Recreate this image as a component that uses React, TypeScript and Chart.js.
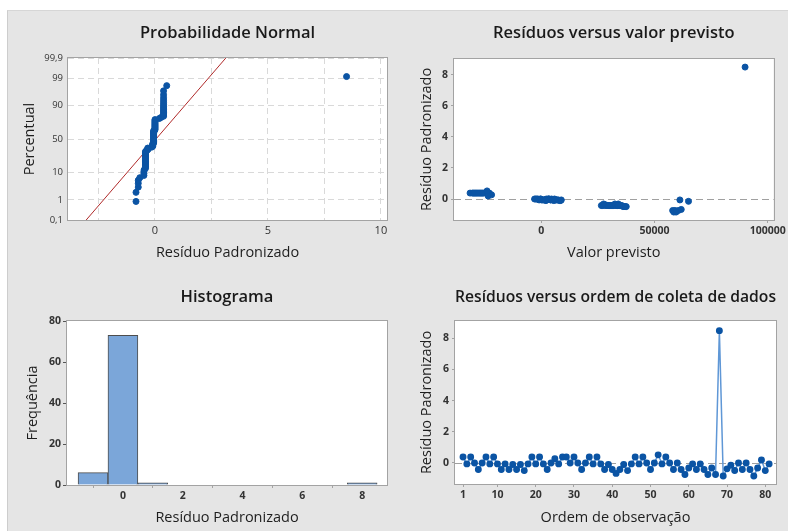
import React, { useEffect, useRef } from "react";
import { Chart, registerables } from "chart.js";
Chart.register(...registerables);

// ---------------- data ----------------
const RESIDUALS = [
  0.38, -0.06, 0.38, 0.0, -0.42, 0.0, 0.38, -0.06, 0.38, -0.06,
  -0.42, -0.06, -0.42, -0.1, -0.42, -0.1, -0.49, -0.06, 0.38, -0.06,
  0.38, -0.06, -0.42, 0.0, 0.27, -0.06, 0.38, 0.38, 0.0, 0.38,
  0.0, -0.42, 0.0, 0.38, -0.06, 0.38, -0.06, -0.42, -0.1, -0.42,
  -0.67, -0.42, -0.1, -0.49, -0.06, 0.38, -0.06, 0.38, 0.0, -0.42,
  0.0, 0.52, -0.06, 0.38, 0.0, -0.42, 0.0, -0.42, -0.74, -0.32,
  -0.06, -0.42, -0.06, -0.42, -0.74, -0.32, -0.74, 8.48, -0.84, -0.38,
  -0.15, -0.48, 0.0, -0.42, 0.0, -0.42, -0.84, -0.32, 0.19, -0.49,
  -0.06,
];
const FITTED = [
  -29000, 1000, -27500, -2500, 28000, 3000, -30500, 5000, -26000, -1000,
  31000, 7000, 33500, 8500, 27000, 2000, 36500, 4000, -24500, 0,
  -23000, 6000, 30000, -3000, -22000, 1500, -28500, -31500, 4500, -25500,
  -1500, 34500, 3500, -27000, 7500, -30000, 500, 29000, 5500, 32000,
  61800, 35500, 8000, 37500, 2500, -29500, 6500, -26500, -500, 26500,
  3200, -24000, 4200, -28000, -2000, 31500, 2200, 33000, 58000, 34000,
  61200, 30500, 8800, 35000, 59000, 32500, 60500, 90000, 58500, 28500,
  65000, 36000, 5800, 29500, -200, 33800, 59500, 27500, -23500, 37000,
  1800,
];
const HIST_BINS = [-1, 0, 1, 2, 3, 4, 5, 6, 7, 8];
const HIST_COUNTS = [6, 73, 1, 0, 0, 0, 0, 0, 0, 1];
const PROB_TICKS = [0.1, 1, 10, 50, 90, 99, 99.9];
const PROB_TICK_LABELS = ["0,1", "1", "10", "50", "90", "99", "99,9"];
const PROB_X_GRID = [-2.5, 0, 2.5, 5, 7.5, 10];
const PROB_X_LABELS = ["", "0", "", "5", "", "10"];
const FIT_LINE_MEAN = 0.045;
const FIT_LINE_SD = 1.0;
const RES_Y_TICKS = [0, 2, 4, 6, 8];
const FIT_X_TICKS = [0, 50000, 100000];
const HIST_X_TICKS = [0, 2, 4, 6, 8];
const HIST_Y_TICKS = [0, 20, 40, 60, 80];
const ORDER_X_TICKS = [1, 10, 20, 30, 40, 50, 60, 70, 80];

// ---------------- helpers ----------------
function invNorm(p: number): number {
  const a = [-3.969683028665376e1, 2.209460984245205e2, -2.759285104469687e2, 1.38357751867269e2, -3.066479806614716e1, 2.506628277459239];
  const b = [-5.447609879822406e1, 1.615858368580409e2, -1.556989798598866e2, 6.680131188771972e1, -1.328068155288572e1];
  const c = [-7.784894002430293e-3, -3.223964580411365e-1, -2.400758277161838, -2.549732539343734, 4.374664141464968, 2.938163982698783];
  const d = [7.784695709041462e-3, 3.224671290700398e-1, 2.445134137142996, 3.754408661907416];
  const pl = 0.02425;
  if (p < pl) {
    const q = Math.sqrt(-2 * Math.log(p));
    return (((((c[0] * q + c[1]) * q + c[2]) * q + c[3]) * q + c[4]) * q + c[5]) / ((((d[0] * q + d[1]) * q + d[2]) * q + d[3]) * q + 1);
  }
  if (p > 1 - pl) {
    const q = Math.sqrt(-2 * Math.log(1 - p));
    return -(((((c[0] * q + c[1]) * q + c[2]) * q + c[3]) * q + c[4]) * q + c[5]) / ((((d[0] * q + d[1]) * q + d[2]) * q + d[3]) * q + 1);
  }
  const q = p - 0.5;
  const r = q * q;
  return ((((((a[0] * r + a[1]) * r + a[2]) * r + a[3]) * r + a[4]) * r + a[5]) * q) / (((((b[0] * r + b[1]) * r + b[2]) * r + b[3]) * r + b[4]) * r + 1);
}

const FONT = "'Open Sans', 'Noto Sans', sans-serif";
const TEXT = "#1e1e1e";
const TICK = "#333";
const BLUE = "#0b54a4";

const framePlugin = {
  id: "frame",
  beforeDraw(chart: any) {
    const { ctx, chartArea } = chart;
    const { left, top, right, bottom } = chartArea;
    ctx.save();
    ctx.fillStyle = "#ffffff";
    ctx.fillRect(left, top, right - left, bottom - top);
    ctx.restore();
  },
  afterDraw(chart: any) {
    const { ctx, chartArea } = chart;
    const { left, top, right, bottom } = chartArea;
    ctx.save();
    ctx.strokeStyle = "#a3a3a3";
    ctx.lineWidth = 1;
    ctx.strokeRect(Math.round(left) - 0.5, Math.round(top) - 0.5, Math.round(right - left) + 1, Math.round(bottom - top) + 1);
    ctx.restore();
  },
};

const zeroLinePlugin = {
  id: "zeroLine",
  beforeDatasetsDraw(chart: any) {
    const { ctx, chartArea } = chart;
    const y = Math.round(chart.scales.y.getPixelForValue(0)) + 0.5;
    ctx.save();
    ctx.strokeStyle = "#a0a0a0";
    ctx.lineWidth = 1;
    ctx.setLineDash([7, 4]);
    ctx.beginPath();
    ctx.moveTo(chartArea.left, y);
    ctx.lineTo(chartArea.right, y);
    ctx.stroke();
    ctx.restore();
  },
};

function titleOpt(text: string, top: number, bottom: number, align: any = "center") {
  return {
    display: true,
    text,
    fullSize: false,
    align,
    color: "#1a1a1a",
    font: { family: FONT, size: 16.5, weight: "600" as any, lineHeight: 1.2 },
    padding: { top, bottom },
  };
}

function axisTitle(text: string, top: number, bottom: number) {
  return {
    display: true,
    text,
    color: TEXT,
    font: { family: FONT, size: 14.5, weight: "500" as any, lineHeight: 1.2 },
    padding: { top, bottom },
  };
}

function setTicks(values: number[]) {
  return (s: any) => {
    s.ticks = values.map((v) => ({ value: v }));
  };
}

const boldTick = { family: FONT, size: 10.5, weight: "bold" as any };

// ---------------- component ----------------
export default function App() {
  const c1 = useRef<HTMLCanvasElement>(null);
  const c2 = useRef<HTMLCanvasElement>(null);
  const c3 = useRef<HTMLCanvasElement>(null);
  const c4 = useRef<HTMLCanvasElement>(null);

  useEffect(() => {
    const charts: Chart[] = [];
    const n = RESIDUALS.length;
    const sorted = [...RESIDUALS].sort((a, b) => a - b);
    const probPoints = sorted.map((v, i) => ({ x: v, y: invNorm((i + 1 - 0.3) / (n + 0.4)) }));
    const zLo = invNorm(PROB_TICKS[0] / 100);
    const zHi = invNorm(PROB_TICKS[PROB_TICKS.length - 1] / 100);
    const fitLine = [
      { x: FIT_LINE_MEAN + FIT_LINE_SD * zLo, y: zLo },
      { x: FIT_LINE_MEAN + FIT_LINE_SD * zHi, y: zHi },
    ];
    const probTickZ = PROB_TICKS.map((p) => invNorm(p / 100));

    // Panel 1: normal probability
    charts.push(
      new Chart(c1.current as HTMLCanvasElement, {
        type: "scatter",
        data: {
          datasets: [
            { data: probPoints, backgroundColor: BLUE, borderColor: BLUE, pointRadius: 3, pointHoverRadius: 3 },
            { data: fitLine, showLine: true, borderColor: "#b02a2a", borderWidth: 1, pointRadius: 0, backgroundColor: "#b02a2a" },
          ],
        },
        options: {
          responsive: false,
          animation: false,
          events: [],
          layout: { padding: { left: 0, right: 11, top: 0, bottom: 0 } },
          plugins: {
            legend: { display: false },
            tooltip: { enabled: false },
            title: titleOpt("Probabilidade Normal", 13.1, 15.1),
          },
          scales: {
            x: {
              type: "linear",
              min: -3.85,
              max: 10.27,
              afterBuildTicks: setTicks(PROB_X_GRID),
              afterFit: (s: any) => { s.height = 50; },
              ticks: {
                autoSkip: false,
                maxRotation: 0,
                padding: 4,
                color: TICK,
                font: { family: FONT, size: 11 },
                callback: (_v: any, i: number) => PROB_X_LABELS[i],
              },
              grid: { color: "#d9d9d9", drawTicks: false },
              border: { display: false, dash: [6, 4] },
              title: axisTitle("Resíduo Padronizado", 0, 8.3),
            },
            y: {
              type: "linear",
              min: zLo,
              max: zHi,
              afterBuildTicks: setTicks(probTickZ),
              afterFit: (s: any) => { s.width = 60; },
              ticks: {
                autoSkip: false,
                padding: 5,
                color: TICK,
                font: { family: FONT, size: 9.5 },
                callback: (_v: any, i: number) => PROB_TICK_LABELS[i],
              },
              grid: { color: "#d9d9d9", drawTicks: false },
              border: { display: false, dash: [6, 4] },
              title: axisTitle("Percentual", 13.3, 0),
            },
          },
        },
        plugins: [framePlugin],
      } as any)
    );

    // Panel 2: residuals vs fitted
    const fitPoints = FITTED.map((f, i) => ({ x: f, y: RESIDUALS[i] }));
    charts.push(
      new Chart(c2.current as HTMLCanvasElement, {
        type: "scatter",
        data: {
          datasets: [{ data: fitPoints, backgroundColor: BLUE, borderColor: BLUE, pointRadius: 3, pointHoverRadius: 3 }],
        },
        options: {
          responsive: false,
          animation: false,
          events: [],
          layout: { padding: { left: 0, right: 12, top: 0, bottom: 0 } },
          plugins: {
            legend: { display: false },
            tooltip: { enabled: false },
            title: titleOpt("Resíduos versus valor previsto", 13.1, 16.1),
          },
          scales: {
            x: {
              type: "linear",
              min: -38600,
              max: 102600,
              afterBuildTicks: setTicks(FIT_X_TICKS),
              afterFit: (s: any) => { s.height = 50; },
              ticks: { autoSkip: false, maxRotation: 0, padding: 2, color: TICK, font: boldTick, callback: (v: any) => String(v) },
              grid: { drawOnChartArea: false, tickLength: 3, color: "#a3a3a3" },
              border: { display: false },
              title: axisTitle("Valor previsto", 0, 8.3),
            },
            y: {
              type: "linear",
              min: -1.35,
              max: 9.0,
              afterBuildTicks: setTicks(RES_Y_TICKS),
              afterFit: (s: any) => { s.width = 56; },
              ticks: { autoSkip: false, padding: 3, color: TICK, font: boldTick, callback: (v: any) => String(v) },
              grid: { drawOnChartArea: false, tickLength: 3, color: "#a3a3a3" },
              border: { display: false },
              title: axisTitle("Resíduo Padronizado", 20.3, 0),
            },
          },
        },
        plugins: [framePlugin, zeroLinePlugin],
      } as any)
    );

    // Panel 3: histogram
    charts.push(
      new Chart(c3.current as HTMLCanvasElement, {
        type: "bar",
        data: {
          datasets: [
            {
              data: HIST_BINS.map((b, i) => ({ x: b, y: HIST_COUNTS[i] })),
              backgroundColor: "#7ba6d9",
              borderColor: "#4d4d4d",
              borderWidth: 1,
              barPercentage: 1,
              categoryPercentage: 1,
              grouped: false,
            },
          ],
        },
        options: {
          responsive: false,
          animation: false,
          events: [],
          layout: { padding: { left: 0, right: 11, top: 0, bottom: 0 } },
          plugins: {
            legend: { display: false },
            tooltip: { enabled: false },
            title: titleOpt("Histograma", 17.1, 14.1),
          },
          scales: {
            x: {
              type: "linear",
              offset: false,
              min: -1.87,
              max: 8.83,
              afterBuildTicks: setTicks(HIST_X_TICKS),
              afterFit: (s: any) => { s.height = 46; },
              ticks: { autoSkip: false, maxRotation: 0, padding: 2, color: TICK, font: boldTick, callback: (v: any) => String(v) },
              grid: { drawOnChartArea: false, tickLength: 3, color: "#a3a3a3" },
              border: { display: false },
              title: axisTitle("Resíduo Padronizado", 0, 4.3),
            },
            y: {
              type: "linear",
              min: 0,
              max: 80,
              afterBuildTicks: setTicks(HIST_Y_TICKS),
              afterFit: (s: any) => { s.width = 59; },
              ticks: { autoSkip: false, padding: 2, color: TICK, font: boldTick, callback: (v: any) => String(v) },
              grid: { drawOnChartArea: false, tickLength: 4, color: "#555" },
              border: { display: false },
              title: axisTitle("Frequência", 16.3, 0),
            },
          },
        },
        plugins: [framePlugin],
      } as any)
    );

    // Panel 4: residuals vs order
    const orderPoints = RESIDUALS.map((r, i) => ({ x: i + 1, y: r }));
    charts.push(
      new Chart(c4.current as HTMLCanvasElement, {
        type: "scatter",
        data: {
          datasets: [
            {
              data: orderPoints,
              showLine: true,
              borderColor: "#5f97d6",
              borderWidth: 1.5,
              backgroundColor: BLUE,
              pointBackgroundColor: BLUE,
              pointBorderColor: BLUE,
              pointRadius: 2.7,
              pointHoverRadius: 2.7,
            },
          ],
        },
        options: {
          responsive: false,
          animation: false,
          events: [],
          layout: { padding: { left: 0, right: 12, top: 0, bottom: 0 } },
          plugins: {
            legend: { display: false },
            tooltip: { enabled: false },
            title: titleOpt("Resíduos versus ordem de coleta de dados", 17.1, 14.1, "end"),
          },
          scales: {
            x: {
              type: "linear",
              min: -1.1,
              max: 82.8,
              afterBuildTicks: setTicks(ORDER_X_TICKS),
              afterFit: (s: any) => { s.height = 47; },
              ticks: { autoSkip: false, maxRotation: 0, padding: 2, color: TICK, font: boldTick, callback: (v: any) => String(v) },
              grid: { drawOnChartArea: false, tickLength: 3, color: "#a3a3a3" },
              border: { display: false },
              title: axisTitle("Ordem de observação", 0, 4.3),
            },
            y: {
              type: "linear",
              min: -1.35,
              max: 9.1,
              afterBuildTicks: setTicks(RES_Y_TICKS),
              afterFit: (s: any) => { s.width = 57; },
              ticks: { autoSkip: false, padding: 3, color: TICK, font: boldTick, callback: (v: any) => String(v) },
              grid: { drawOnChartArea: false, tickLength: 3, color: "#a3a3a3" },
              border: { display: false },
              title: axisTitle("Resíduo Padronizado", 20.3, 0),
            },
          },
        },
        plugins: [framePlugin, zeroLinePlugin],
      } as any)
    );

    return () => {
      charts.forEach((c) => c.destroy());
    };
  }, []);

  const cv = (left: number, top: number, w: number, h: number) => ({
    position: "absolute" as const,
    left,
    top,
    width: w,
    height: h,
  });

  return (
    <div style={{ position: "fixed", left: 0, top: 0, width: 788, height: 531, background: "#ffffff", overflow: "hidden" }}>
      <div
        style={{
          position: "absolute",
          left: 7,
          top: 10,
          width: 781,
          height: 521,
          background: "#e5e5e5",
          borderLeft: "1px solid #cdcdcd",
          borderTop: "1px solid #d6d6d6",
          boxSizing: "border-box",
        }}
      />
      <canvas ref={c1} width={390} height={260} style={cv(8, 10, 390, 260)} />
      <canvas ref={c2} width={390} height={260} style={cv(398, 10, 390, 260)} />
      <canvas ref={c3} width={390} height={261} style={cv(8, 270, 390, 261)} />
      <canvas ref={c4} width={390} height={261} style={cv(398, 270, 390, 261)} />
    </div>
  );
}
